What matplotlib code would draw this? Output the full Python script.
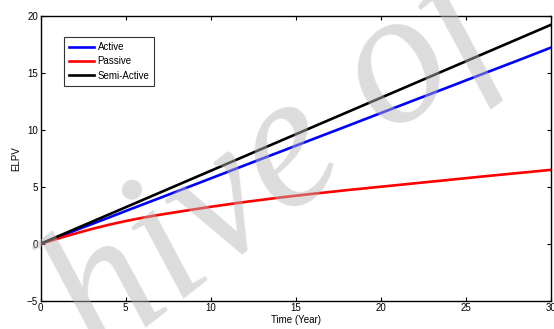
import matplotlib
matplotlib.use('Agg')
import matplotlib.pyplot as plt

# values (ELPV vs time)
years = [0, 1, 2, 3, 4, 5, 6, 7, 8, 10, 12, 14, 16, 18, 20, 22, 24, 26, 28, 30]
active = [0, 0.57, 1.15, 1.72, 2.29, 2.87, 3.44, 4.01, 4.58, 5.73, 6.88, 8.02,
          9.17, 10.31, 11.46, 12.61, 13.75, 14.9, 16.04, 17.2]
passive = [0, 0.45, 0.88, 1.29, 1.66, 1.99, 2.28, 2.54, 2.78, 3.24, 3.66, 4.04,
           4.38, 4.7, 5.0, 5.3, 5.6, 5.9, 6.19, 6.48]
semi_active = [0, 0.64, 1.28, 1.92, 2.56, 3.2, 3.84, 4.48, 5.12, 6.4, 7.68, 8.96,
               10.24, 11.52, 12.8, 14.08, 15.36, 16.64, 17.92, 19.2]

x_ticks = [0, 5, 10, 15, 20, 25, 30]
y_ticks = [-5, 0, 5, 10, 15, 20]

plt.rcParams['font.family'] = ['Liberation Sans', 'DejaVu Sans']

fig = plt.figure(figsize=(5.54, 3.29), dpi=100)
ax = fig.add_axes([0.0735, 0.086, 0.9205, 0.866])

ax.plot(years, active, color='#0000ff', lw=1.9, label='Active')
ax.plot(years, passive, color='#ff0000', lw=1.9, label='Passive')
ax.plot(years, semi_active, color='#000000', lw=1.9, label='Semi-Active')

ax.set_xlim(0, 30)
ax.set_ylim(-5, 20)
ax.set_xticks(x_ticks)
ax.set_yticks(y_ticks)
ax.tick_params(direction='in', length=3, width=0.8, labelsize=7, top=True, right=True, pad=2)
for s in ax.spines.values():
    s.set_linewidth(1.0)

ax.set_xlabel('Time (Year)', fontsize=7, labelpad=1)
ax.set_ylabel('ELPV', fontsize=7, labelpad=4)

leg = ax.legend(loc='upper left', bbox_to_anchor=(0.045, 0.925), fontsize=7,
                frameon=True, fancybox=False, edgecolor='black',
                handlelength=2.6, handletextpad=0.4, labelspacing=0.45,
                borderpad=0.5, borderaxespad=0)
leg.get_frame().set_linewidth(0.8)

# light grey watermark laid over the plot
fig.text(0.495, 0.49, 'hive of', fontsize=138, family='Liberation Serif',
         style='italic', color='#b6b6b6', alpha=0.47,
         rotation=38, ha='center', va='center', zorder=10)

plt.savefig('out.png', dpi=100)
